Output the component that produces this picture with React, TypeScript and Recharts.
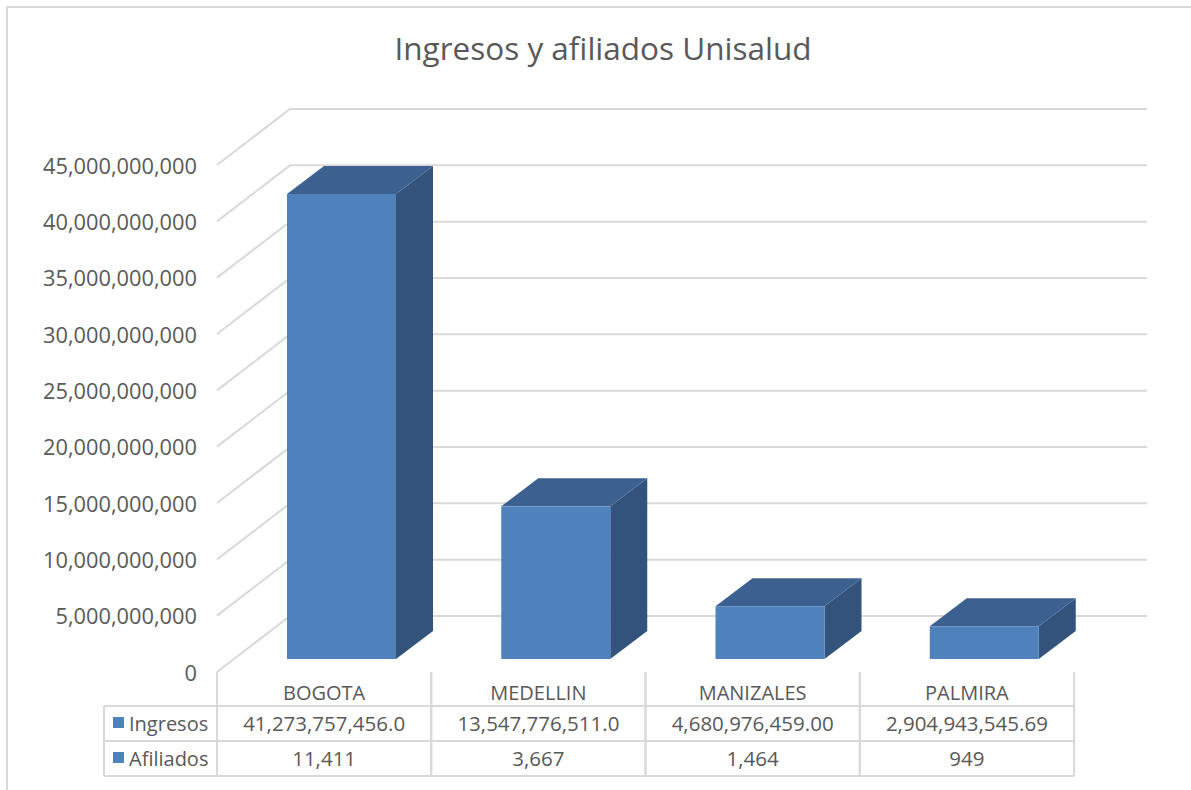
import React from 'react';
import { BarChart, Bar, XAxis, YAxis, CartesianGrid } from 'recharts';

const cities = ['BOGOTA', 'MEDELLIN', 'MANIZALES', 'PALMIRA'];
const ingresos = [41273757456.0, 13547776511.0, 4680976459.0, 2904943545.69];
const afiliados = [11411, 3667, 1464, 949];
// table text as Excel shows it (general format, truncated)
const ingresosLabels = ['41,273,757,456.0', '13,547,776,511.0', '4,680,976,459.00', '2,904,943,545.69'];
const seriesNames = ['Ingresos', 'Afiliados'];
const yTicks = [0, 5e9, 10e9, 15e9, 20e9, 25e9, 30e9, 35e9, 40e9, 45e9];

const data = cities.map((city, i) => ({ city, ingresos: ingresos[i], afiliados: afiliados[i] }));

const W = 1191;
const H = 790;
const PLOT_LEFT = 217;
const PLOT_RIGHT = 1074;
const BAND = (PLOT_RIGHT - PLOT_LEFT) / cities.length;

// oblique depth of the walls and of the bars
const WALL_DX = 73;
const WALL_DY = 56;
const BAR_OFF_X = 17;
const BAR_OFF_Y = 13;
const BAR_DX = 37;
const BAR_DY = 28;

const FONT = '"Open Sans", sans-serif';
const TEXT = '#595959';
const LINE = '#d9d9d9';
const BLUE = '#4f81bd';
const BLUE_TOP = '#3c6190';
const BLUE_SIDE = '#33537c';

const fmt = (v: number) => v.toLocaleString('en-US');

const wallLine = (p: any) => {
  const { x1, y1, x2, index } = p;
  return (
    <polyline
      key={`wall-${index}`}
      points={`${x1},${y1} ${x1 + WALL_DX},${y1 - WALL_DY} ${x2 + WALL_DX},${y1 - WALL_DY}`}
      fill="none"
      stroke={LINE}
      strokeWidth={2}
    />
  );
};

const Bar3D = (props: any) => {
  const { x, y, width, height } = props;
  if (!height) return null;
  const fx = x + BAR_OFF_X;
  const fy = y - BAR_OFF_Y;
  const top = `${fx},${fy} ${fx + width},${fy} ${fx + width + BAR_DX},${fy - BAR_DY} ${fx + BAR_DX},${fy - BAR_DY}`;
  const side = `${fx + width},${fy} ${fx + width + BAR_DX},${fy - BAR_DY} ${fx + width + BAR_DX},${fy + height - BAR_DY} ${fx + width},${fy + height}`;
  return (
    <g>
      <polygon points={side} fill={BLUE_SIDE} />
      <polygon points={top} fill={BLUE_TOP} />
      <rect x={fx} y={fy} width={width} height={height} fill={BLUE} />
    </g>
  );
};

const YTick = (props: any) => {
  const { x, y, payload } = props;
  return (
    <text x={x} y={y} fontSize={21.8} fill={TEXT} fontFamily={FONT} textAnchor="end" dominantBaseline="central">
      {fmt(payload.value)}
    </text>
  );
};

const TableColumn = (props: any) => {
  const { x, y, index } = props;
  const left = x - BAND / 2;
  const right = x + BAND / 2;
  const rows = [y + 34, y + 69, y + 104];
  const line = { stroke: LINE, strokeWidth: 2 };
  const txt = { fill: TEXT, fontFamily: FONT, textAnchor: 'middle' as const, dominantBaseline: 'central' as const };
  const legendLeft = left - 113;
  return (
    <g>
      <line x1={left} y1={y} x2={left} y2={rows[2]} {...line} />
      <line x1={right} y1={y} x2={right} y2={rows[2]} {...line} />
      {rows.map((ry, i) => (
        <line key={i} x1={index === 0 ? legendLeft : left} y1={ry} x2={right} y2={ry} {...line} />
      ))}
      <text x={x} y={y + 20} fontSize={20} {...txt}>{cities[index]}</text>
      <text x={x} y={y + 51} fontSize={20.5} {...txt}>{ingresosLabels[index]}</text>
      <text x={x} y={y + 86} fontSize={20.5} {...txt}>{fmt(afiliados[index])}</text>
      {index === 0 && (
        <g>
          <line x1={legendLeft} y1={rows[0]} x2={legendLeft} y2={rows[2]} {...line} />
          {seriesNames.map((name, i) => (
            <g key={name}>
              <rect x={legendLeft + 9} y={y + 45 + i * 35} width={11} height={11} fill={BLUE} />
              <text
                x={legendLeft + 25}
                y={y + 51 + i * 35}
                fontSize={20}
                fill={TEXT}
                fontFamily={FONT}
                dominantBaseline="central"
              >
                {name}
              </text>
            </g>
          ))}
        </g>
      )}
    </g>
  );
};

export default function App() {
  return (
    <div style={{ position: 'absolute', left: 0, top: 0, width: W, height: H, overflow: 'hidden', background: '#fff' }}>
      <div
        style={{
          position: 'absolute',
          left: 6,
          top: 6,
          width: W + 40,
          height: H + 40,
          border: `2px solid ${LINE}`,
        }}
      />
      <div
        style={{
          position: 'absolute',
          left: 0,
          width: 1206,
          top: 27,
          textAlign: 'center',
          fontFamily: FONT,
          fontSize: 31.5,
          color: TEXT,
          lineHeight: '42px',
        }}
      >
        Ingresos y afiliados Unisalud
      </div>
      <div style={{ position: 'absolute', left: 0, top: 0 }}>
        <BarChart
          width={W}
          height={H}
          data={data}
          margin={{ top: 165, right: W - PLOT_RIGHT, bottom: 8, left: 0 }}
        >
          <CartesianGrid vertical={false} horizontal={wallLine} />
          <YAxis
            type="number"
            domain={[0, 45e9]}
            ticks={yTicks}
            width={PLOT_LEFT}
            axisLine={false}
            tickLine={false}
            tickSize={0}
            tickMargin={20}
            interval={0}
            tick={YTick}
          />
          <XAxis
            dataKey="city"
            height={110}
            axisLine={false}
            tickLine={false}
            tickSize={0}
            tickMargin={0}
            interval={0}
            tick={TableColumn}
          />
          <Bar dataKey="ingresos" barSize={109} shape={Bar3D} isAnimationActive={false} />
        </BarChart>
      </div>
    </div>
  );
}
